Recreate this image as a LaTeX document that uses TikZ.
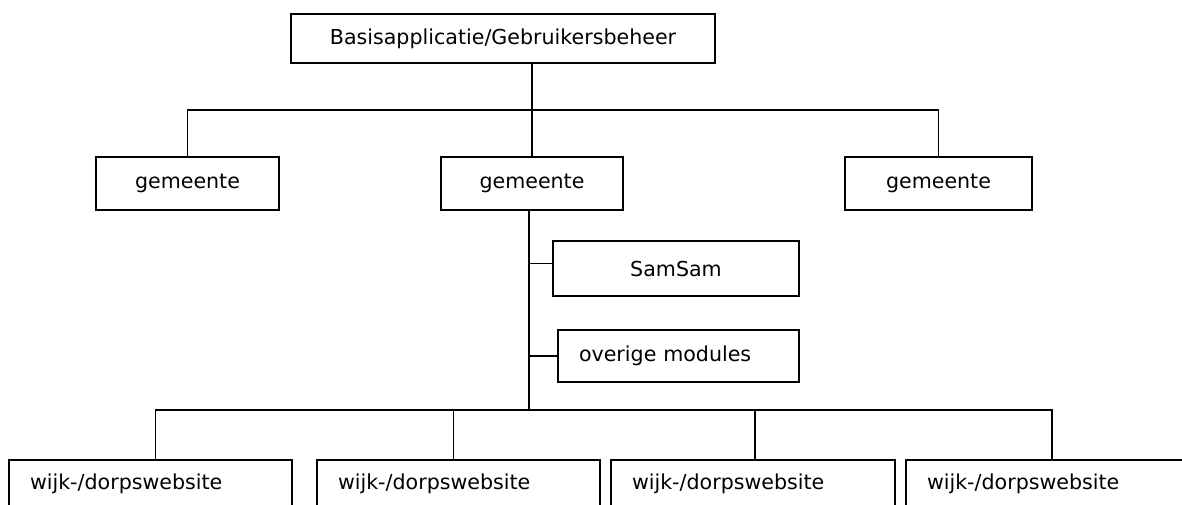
\documentclass[tikz,border=0pt]{standalone}
\usepackage{fontspec}
\setmainfont{DejaVu Sans}
\usepackage{tikz}

\begin{document}
\begin{tikzpicture}[
  x=1pt,y=-1pt,
  every node/.style={font=\fontsize{20.6}{24}\selectfont,inner sep=0pt,outer sep=0pt,anchor=north west},
  box/.style={draw,line width=1.8pt,minimum height=53pt},
  lbox/.style={box,align=left,text width=#1,inner xsep=21pt},
  ln/.style={line width=1.8pt}
]
\useasboundingbox (0,0) rectangle (1182,504);
\clip (0,0) rectangle (1182,504);
\node[box,minimum width=424pt,minimum height=49pt] (top) at (291,14) {Basisapplicatie/Gebruikersbeheer};
\node[box,minimum width=183pt] (g1) at (96,157) {gemeente};
\node[box,minimum width=182pt] (g2) at (441,157) {gemeente};
\node[box,minimum width=187pt] (g3) at (845,157) {gemeente};
\node[box,minimum width=246pt,minimum height=55pt] (sam) at (553,241) {SamSam};
\node[lbox=199pt,minimum height=52pt] (ovr) at (558,330) {overige modules};
\node[lbox=241pt,minimum height=48pt] (w1) at (9,460) {wijk-/dorpswebsite};
\node[lbox=241pt,minimum height=48pt] (w2) at (317,460) {wijk-/dorpswebsite};
\node[lbox=242pt,minimum height=48pt] (w3) at (611,460) {wijk-/dorpswebsite};
\node[lbox=242pt,minimum height=48pt] (w4) at (906,460) {wijk-/dorpswebsite};
\coordinate (bus) at (532,110);
\coordinate (trunk) at (529,410);
% top level
\draw[ln] (top.south -| g2.north) -- (g2.north);
\draw[ln] (g1.north) |- (bus) -| (g3.north);
% modules
\draw[ln] (g2.south -| trunk) -- (trunk);
\draw[ln] ([yshift=5pt]sam.west) -- ([yshift=5pt]sam.west -| trunk);
\draw[ln] (ovr.west) -- (ovr.west -| trunk);
% websites
\draw[ln] ([xshift=5pt]w1.north) |- (trunk) -| ([xshift=4pt]w4.north);
\draw[ln] ([xshift=-5pt]w2.north) -- ([xshift=-5pt]w2.north |- trunk);
\draw[ln] ([xshift=2pt]w3.north) -- ([xshift=2pt]w3.north |- trunk);
\end{tikzpicture}
\end{document}
